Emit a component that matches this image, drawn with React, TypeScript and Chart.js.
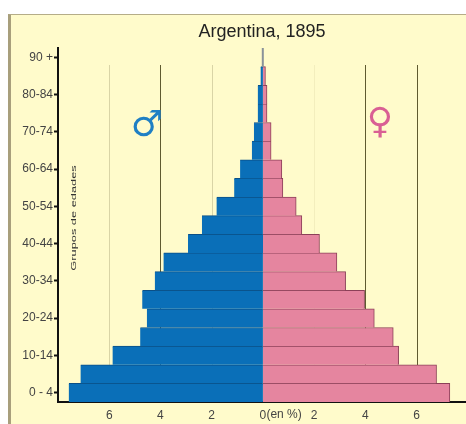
import React, { useEffect, useRef } from "react";
import { Chart, registerables } from "chart.js";

Chart.register(...registerables);

const ageGroups = ["0 - 4","5-9","10-14","15-19","20-24","25-29","30-34","35-39","40-44","45-49","50-54","55-59","60-64","65-69","70-74","75-79","80-84","85-89","90 +"];
const males = [7.58,7.12,5.87,4.79,4.53,4.71,4.22,3.88,2.92,2.38,1.81,1.12,0.89,0.43,0.35,0.2,0.2,0.09,0.03];
const females = [7.3,6.78,5.3,5.09,4.35,3.97,3.23,2.89,2.21,1.52,1.3,0.78,0.74,0.32,0.32,0.16,0.16,0.1,0.02];
const gridValues = [-6,-4,-2,2,4,6];
const gridColors = ["#d9d4a6","#5f5a30","#d9d4a6","#f3eebd","#5f5a30","#5f5a30"];
const FONT = '"Liberation Sans", Arial, sans-serif';
const topIndex = ageGroups.length - 1;

const annotations = {
  id: "annotations",
  beforeDatasetsDraw(chart: any) {
    const { ctx, scales: { x }, chartArea } = chart;
    ctx.save();
    ctx.lineWidth = 1;
    gridValues.forEach((v, i) => {
      const px = Math.round(x.getPixelForValue(v)) + 0.5;
      ctx.strokeStyle = gridColors[i];
      ctx.beginPath();
      ctx.moveTo(px, chartArea.top + 17);
      ctx.lineTo(px, chartArea.bottom);
      ctx.stroke();
    });
    ctx.restore();
  },
  afterDatasetsDraw(chart: any) {
    const { ctx, scales: { x }, chartArea } = chart;
    ctx.save();
    ctx.font = `12px ${FONT}`;
    ctx.fillStyle = "#444";
    ctx.textBaseline = "middle";
    ctx.textAlign = "left";
    ctx.fillText("(en %)", x.getPixelForValue(0) + 3.5, chartArea.bottom + 13);

    ctx.save();
    ctx.translate(74, 218);
    ctx.rotate(-Math.PI / 2);
    ctx.scale(1.6, 1);
    ctx.textAlign = "center";
    ctx.font = `8px ${FONT}`;
    ctx.fillStyle = "#333";
    ctx.fillText("Grupos de edades", 0, 0);
    ctx.restore();

    ctx.textAlign = "center";
    ctx.font = `bold 36px "DejaVu Sans"`;
    ctx.fillStyle = "#1f7fc4";
    ctx.fillText("♂", 147, 127);
    ctx.fillStyle = "#d95f94";
    ctx.fillText("♀", 380, 124);
    ctx.restore();
  },
};

export default function App() {
  const ref = useRef<HTMLCanvasElement>(null);
  useEffect(() => {
    const chart = new Chart(ref.current!, {
      type: "bar",
      data: {
        labels: ageGroups,
        datasets: [
          {
            label: "Hombres",
            data: males.map((v) => -v),
            backgroundColor: ageGroups.map((_, i) => (i === topIndex ? "#8a9299" : "#0a6fb8")),
            borderColor: "#0b4f86",
            borderWidth: (c: any) => (c.dataIndex === topIndex ? 0 : { top: 1, bottom: 0, left: 0, right: 0 }),
          },
          {
            label: "Mujeres",
            data: females,
            backgroundColor: ageGroups.map((_, i) => (i === topIndex ? "#8a9299" : "#e5859f")),
            borderColor: "#8c4058",
            borderWidth: (c: any) => (c.dataIndex === topIndex ? 0 : { top: 1, bottom: 0, left: 0, right: 1 }),
          },
        ],
      },
      plugins: [annotations],
      options: {
        animation: false,
        responsive: false,
        indexAxis: "y",
        barPercentage: 1,
        categoryPercentage: 1,
        layout: { padding: 0 },
        plugins: {
          legend: { display: false },
          tooltip: { enabled: false },
          title: {
            display: true,
            fullSize: false,
            text: "Argentina, 1895",
            color: "#222",
            font: { family: FONT, size: 18, weight: "normal" },
            padding: { top: 21, bottom: 5.4 },
          },
        },
        scales: {
          x: {
            stacked: true,
            min: -8,
            max: 7.93,
            afterFit(s: any) { s.height = 22; },
            afterBuildTicks(s: any) { s.ticks = [-6,-4,-2,0,2,4,6].map((value) => ({ value })); },
            border: { color: "#111", width: 2 },
            grid: { display: false, drawTicks: false },
            ticks: {
              color: "#444",
              font: { family: FONT, size: 12 },
              padding: 6,
              maxRotation: 0,
              autoSkip: false,
              callback: (v: any) => String(Math.abs(Number(v))),
            },
          },
          y: {
            stacked: true,
            reverse: true,
            afterFit(s: any) { s.width = 58; },
            border: { color: "#111", width: 2 },
            grid: {
              offset: false,
              drawOnChartArea: false,
              drawTicks: true,
              tickLength: 4,
              tickWidth: 2,
              tickColor: (c: any) => (c.index % 2 === 0 ? "#111" : "transparent"),
            },
            ticks: {
              color: "#444",
              font: { family: FONT, size: 12 },
              padding: 1,
              autoSkip: false,
              callback: (_v: any, i: number) => (i % 2 === 0 ? ageGroups[i] : ""),
            },
          },
        },
      },
    } as any);
    return () => chart.destroy();
  }, []);
  return (
    <div style={{ position: "absolute", left: 0, top: 0, width: 466, height: 424, background: "#fff", overflow: "hidden" }}>
      <div style={{ position: "absolute", left: 8, top: 14, width: 458, height: 410, boxSizing: "border-box", background: "#fffbcb", borderLeft: "3px solid #a89f7c", borderTop: "1px solid #b5ad88" }} />
      <canvas ref={ref} width={466} height={424} style={{ position: "absolute", left: 0, top: 0, display: "block" }} />
    </div>
  );
}
